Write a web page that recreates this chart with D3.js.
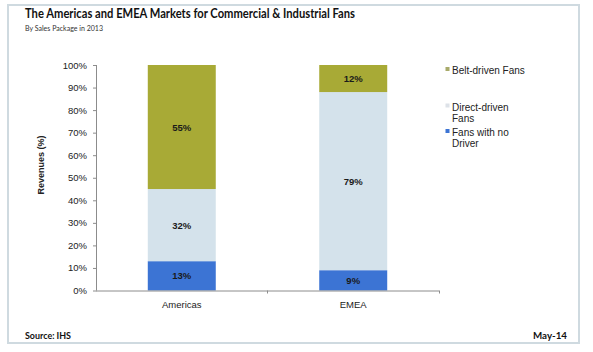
<!DOCTYPE html>
<html>
<head>
<meta charset="utf-8">
<script src="https://cdn.jsdelivr.net/npm/d3@7"></script>
<style>
    body { margin: 0; background: #fff; }
    svg { display: block; }
    .axis text { font-family: "Liberation Sans", Arial, sans-serif; font-size: 9.5px; fill: #222; }
    .axis path, .axis line { stroke: #8c8c8c; }
</style>
</head>
<body>
<svg id="chart" width="593" height="352"></svg>
<script>
// chart data
const categories = ['Americas', 'EMEA'];
const seriesNames = ['Fans with no Driver', 'Direct-driven Fans', 'Belt-driven Fans'];
const noDriver = [13, 9];
const directDriven = [32, 79];
const beltDriven = [55, 12];
const yTicks = [0, 10, 20, 30, 40, 50, 60, 70, 80, 90, 100];

const colors = {
    'Fans with no Driver': '#3c74d4',
    'Direct-driven Fans': '#d4e2eb',
    'Belt-driven Fans': '#a8aa36'
};
const legendColors = {
    'Fans with no Driver': '#3c74d4',
    'Direct-driven Fans': '#dde2e8',
    'Belt-driven Fans': '#a8aa6a'
};

const svg = d3.select('#chart');
const font = '"Liberation Sans", Arial, sans-serif';
const titleFont = 'Lato, "Open Sans", sans-serif';

// frame
svg.append('rect')
    .attr('x', 8).attr('y', 5)
    .attr('width', 571).attr('height', 338)
    .attr('fill', '#fff')
    .attr('stroke', '#cfdae0')
    .attr('stroke-width', 2);

svg.append('text')
    .attr('x', 25).attr('y', 18)
    .attr('font-family', titleFont).attr('font-weight', 'bold').attr('font-size', 12.5)
    .attr('textLength', 330).attr('lengthAdjust', 'spacingAndGlyphs')
    .attr('fill', '#111')
    .text('The Americas and EMEA Markets for Commercial & Industrial Fans');

svg.append('text')
    .attr('x', 25).attr('y', 31)
    .attr('font-family', titleFont).attr('font-size', 7.5)
    .attr('textLength', 78).attr('lengthAdjust', 'spacingAndGlyphs')
    .attr('fill', '#333')
    .text('By Sales Package in 2013');

svg.append('text')
    .attr('x', 25).attr('y', 338.5)
    .attr('font-family', titleFont).attr('font-weight', 'bold').attr('font-size', 9.5)
    .attr('textLength', 46).attr('lengthAdjust', 'spacingAndGlyphs')
    .attr('fill', '#111')
    .text('Source: IHS');

svg.append('text')
    .attr('x', 567).attr('y', 338.5)
    .attr('text-anchor', 'end')
    .attr('font-family', titleFont).attr('font-weight', 'bold').attr('font-size', 9.5)
    .attr('textLength', 34).attr('lengthAdjust', 'spacingAndGlyphs')
    .attr('fill', '#111')
    .text('May-14');

// plot area
const plot = { left: 96, right: 439, top: 65, bottom: 290.5 };

const x = d3.scaleBand()
    .domain(categories)
    .range([plot.left, plot.right])
    .paddingInner(0.6035)
    .paddingOuter(0.302);

const y = d3.scaleLinear()
    .domain([0, 100])
    .range([plot.bottom, plot.top]);

// stacked data
const rows = categories.map((c, i) => ({
    category: c,
    'Fans with no Driver': noDriver[i],
    'Direct-driven Fans': directDriven[i],
    'Belt-driven Fans': beltDriven[i]
}));
const stacked = d3.stack().keys(seriesNames)(rows);

const layers = svg.append('g').selectAll('g')
    .data(stacked)
    .enter().append('g')
    .attr('fill', d => colors[d.key]);

layers.selectAll('rect')
    .data(d => d)
    .enter().append('rect')
    .attr('x', d => x(d.data.category))
    .attr('width', x.bandwidth())
    .attr('y', d => y(d[1]))
    .attr('height', d => y(d[0]) - y(d[1]));

layers.selectAll('text')
    .data(d => d.map(v => ({ v, key: d.key })))
    .enter().append('text')
    .attr('x', d => x(d.v.data.category) + x.bandwidth() / 2)
    .attr('y', d => (y(d.v[0]) + y(d.v[1])) / 2 + 3.5)
    .attr('text-anchor', 'middle')
    .attr('font-family', font).attr('font-weight', 'bold').attr('font-size', 9.5)
    .attr('fill', '#1a1a1a')
    .text(d => d.v.data[d.key] + '%');

// y axis
const yAxis = svg.append('g')
    .attr('class', 'axis')
    .attr('transform', `translate(${plot.left},0)`)
    .call(d3.axisLeft(y).tickValues(yTicks).tickSize(4).tickPadding(5).tickFormat(d => d + '%'));
yAxis.select('.domain').attr('d', `M0.5,${plot.top}V${plot.bottom}`);
yAxis.selectAll('line').attr('x1', 0.5).attr('x2', -3);

// x axis
const xAxis = svg.append('g')
    .attr('class', 'axis')
    .attr('transform', `translate(0,${plot.bottom})`)
    .call(d3.axisBottom(x).tickSize(0).tickPadding(11));
xAxis.select('.domain').attr('d', `M${plot.left},0.5H${plot.right}`);
xAxis.selectAll('text').attr('font-size', 10);

// category separators
const step = x.step();
const seps = [plot.left + step, plot.right];
svg.append('g').selectAll('line')
    .data(seps)
    .enter().append('line')
    .attr('x1', d => Math.round(d) + 0.5).attr('x2', d => Math.round(d) + 0.5)
    .attr('y1', plot.bottom).attr('y2', plot.bottom + 3)
    .attr('stroke', '#8c8c8c');

// y label
svg.append('text')
    .attr('transform', 'translate(44,165) rotate(-90)')
    .attr('text-anchor', 'middle')
    .attr('font-family', font).attr('font-weight', 'bold').attr('font-size', 9)
    .attr('fill', '#222')
    .text('Revenues (%)');

// legend
const legendItems = [
    { name: 'Belt-driven Fans', lines: ['Belt-driven Fans'], y: 74 },
    { name: 'Direct-driven Fans', lines: ['Direct-driven', 'Fans'], y: 110.5 },
    { name: 'Fans with no Driver', lines: ['Fans with no', 'Driver'], y: 136 }
];
const legend = svg.append('g').selectAll('g')
    .data(legendItems)
    .enter().append('g');

legend.append('rect')
    .attr('x', 445.5).attr('y', d => d.y - 7)
    .attr('width', 4).attr('height', 4)
    .attr('fill', d => legendColors[d.name]);

legend.append('text')
    .attr('x', 452)
    .attr('y', d => d.y)
    .attr('font-family', font).attr('font-size', 10)
    .attr('fill', '#222')
    .selectAll('tspan')
    .data(d => d.lines)
    .enter().append('tspan')
    .attr('x', 452)
    .attr('dy', (d, i) => i === 0 ? 0 : 11)
    .text(d => d);
</script>
</body>
</html>
